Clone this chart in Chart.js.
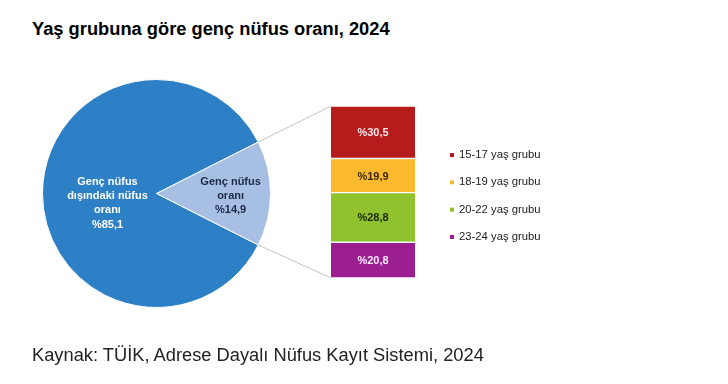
<!DOCTYPE html>
<html lang="tr">
<head>
<meta charset="utf-8">
<script src="https://cdn.jsdelivr.net/npm/chart.js@4/dist/chart.umd.min.js"></script>
<style>
    html, body { margin: 0; padding: 0; background: #fff; }
    #wrap { position: relative; width: 728px; height: 384px; overflow: hidden; font-family: Arial, "Liberation Sans", sans-serif; }
    canvas { position: absolute; left: 0; top: 0; }
    #title { position: absolute; left: 32px; top: 20px; font-size: 18.3px; line-height: 18px; font-weight: bold; color: #000; }
    #source { position: absolute; left: 32px; top: 346px; font-size: 18.3px; line-height: 18px; color: #222; }
</style>
</head>
<body>
<div id="wrap">
    <div id="title">Yaş grubuna göre genç nüfus oranı, 2024</div>
    <canvas id="pieChart" width="728" height="384"></canvas>
    <canvas id="barChart" width="728" height="384"></canvas>
    <div id="source">Kaynak: TÜİK, Adrese Dayalı Nüfus Kayıt Sistemi, 2024</div>
</div>
<script>
// ================= DATA =================
const pieLabels = [["Genç nüfus", "dışındaki nüfus", "oranı"], ["Genç nüfus", "oranı"]];
const pieValues = [85.1, 14.9];
const pieColors = ["#2d7fc6", "#a6bfe3"];
const pieTextColors = ["#ffffff", "#1d2a4a"];

const ageGroups = ["15-17 yaş grubu", "18-19 yaş grubu", "20-22 yaş grubu", "23-24 yaş grubu"];
const ageValues = [30.5, 19.9, 28.8, 20.8];
const ageColors = ["#b71c1c", "#fbb92e", "#8fc22c", "#9b1f90"];
const ageTextColors = ["#ffe8e8", "#3b2a00", "#1c2a05", "#ffe8ff"];

const FONT = "Arial, 'Liberation Sans', sans-serif";
const fmt = (v) => "%" + v.toFixed(1).replace(".", ",");

// ================= PIE CHART =================
const pieLabelPlugin = {
    id: "pieLabels",
    afterDatasetsDraw(chart) {
        const ctx = chart.ctx;
        const meta = chart.getDatasetMeta(0);
        const factors = [0.43, 0.65]; // distance from centre, share of radius
        ctx.save();
        ctx.font = "bold 11px " + FONT;
        ctx.textAlign = "center";
        ctx.textBaseline = "middle";
        meta.data.forEach((arc, i) => {
            const mid = (arc.startAngle + arc.endAngle) / 2;
            const cx = arc.x + Math.cos(mid) * arc.outerRadius * factors[i];
            const cy = arc.y + Math.sin(mid) * arc.outerRadius * factors[i];
            const lines = pieLabels[i].concat([fmt(pieValues[i])]);
            ctx.fillStyle = pieTextColors[i];
            lines.forEach((t, j) => {
                const extra = (j === lines.length - 1 && i === 0) ? 1 : 0;
                ctx.fillText(t, cx, cy - 12 + j * 14 + extra);
            });
        });
        ctx.restore();
    }
};

const pieChart = new Chart(document.getElementById("pieChart"), {
    type: "pie",
    data: {
        labels: pieLabels.map(l => l.join(" ")),
        datasets: [{
            data: pieValues,
            backgroundColor: pieColors,
            borderColor: "#ffffff",
            borderWidth: 1
        }]
    },
    options: {
        responsive: false,
        animation: false,
        // put the small slice centred on the right side
        rotation: 90 + pieValues[1] * 3.6 / 2,
        layout: { padding: { left: 42, right: 457, top: 79, bottom: 76 } },
        plugins: { legend: { display: false }, tooltip: { enabled: false } }
    },
    plugins: [pieLabelPlugin]
});

// ================= STACKED BAR =================
const barExtras = {
    id: "barExtras",
    beforeDatasetsDraw(chart) {
        // connector lines from the small slice to the bar
        const arc = pieChart.getDatasetMeta(0).data[1];
        const metas = chart.getSortedVisibleDatasetMetas();
        const topEl = metas[metas.length - 1].data[0];
        const botEl = metas[0].data[0];
        const left = topEl.x - topEl.width / 2;
        const ctx = chart.ctx;
        ctx.save();
        ctx.strokeStyle = "#c4c4c4";
        ctx.lineWidth = 1;
        ctx.beginPath();
        ctx.moveTo(arc.x + Math.cos(arc.startAngle) * arc.outerRadius, arc.y + Math.sin(arc.startAngle) * arc.outerRadius);
        ctx.lineTo(left, topEl.y);
        ctx.moveTo(arc.x + Math.cos(arc.endAngle) * arc.outerRadius, arc.y + Math.sin(arc.endAngle) * arc.outerRadius);
        ctx.lineTo(left, botEl.base);
        ctx.stroke();
        ctx.restore();
    },
    afterDatasetsDraw(chart) {
        const ctx = chart.ctx;
        ctx.save();
        ctx.font = "bold 11px " + FONT;
        ctx.textAlign = "center";
        ctx.textBaseline = "middle";
        chart.data.datasets.forEach((ds, d) => {
            const el = chart.getDatasetMeta(d).data[0];
            const idx = ageGroups.indexOf(ds.label);
            ctx.fillStyle = ageTextColors[idx];
            ctx.fillText(fmt(ageValues[idx]), el.x, (el.y + el.base) / 2 + 1);
        });

        // legend, top to bottom in age order
        const area = chart.chartArea;
        const right = area.right;
        const midY = (area.top + area.bottom) / 2 + 4;
        const step = 27.3;
        ctx.font = "11.3px " + FONT;
        ctx.textAlign = "left";
        ageGroups.forEach((g, i) => {
            const y = midY + (i - (ageGroups.length - 1) / 2) * step;
            ctx.fillStyle = ageColors[i];
            ctx.fillRect(right + 35, y - 2, 4, 4);
            ctx.fillStyle = "#222222";
            ctx.fillText(g, right + 44, y);
        });
        ctx.restore();
    }
};

const barChart = new Chart(document.getElementById("barChart"), {
    type: "bar",
    data: {
        labels: [""],
        // first dataset sits at the bottom of the stack
        datasets: ageGroups.map((g, i) => ({
            label: g,
            data: [ageValues[i]],
            backgroundColor: ageColors[i],
            borderColor: "#ffffff",
            borderWidth: { top: 1, bottom: 1, left: 0, right: 0 },
            borderSkipped: false,
            barPercentage: 1,
            categoryPercentage: 1
        })).reverse()
    },
    options: {
        responsive: false,
        animation: false,
        layout: { padding: { left: 331, right: 313, top: 106, bottom: 106 } },
        scales: {
            x: { stacked: true, display: false },
            y: { stacked: true, display: false, min: 0, max: 100 }
        },
        plugins: { legend: { display: false }, tooltip: { enabled: false } }
    },
    plugins: [barExtras]
});
</script>
</body>
</html>
